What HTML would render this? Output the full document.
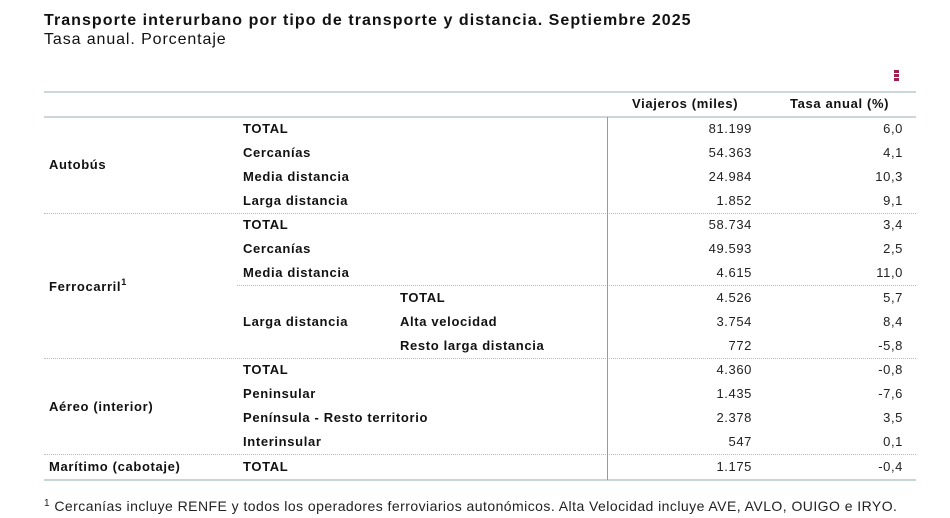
<!DOCTYPE html>
<html><head><meta charset="utf-8"><style>
body{margin:0;width:950px;height:518px;background:#fff;font-family:"Liberation Sans",Arial,sans-serif;color:#111;position:relative;overflow:hidden}
.a{position:absolute;white-space:nowrap;line-height:16px}
.b{font-weight:bold;font-size:13px;letter-spacing:0.65px}
.n{font-size:13px;text-align:right;color:#222;letter-spacing:0.6px}
.h{position:absolute;height:0}
</style></head><body>
<div class="a" style="left:44px;top:12px;font-size:16px;font-weight:bold;line-height:18px;letter-spacing:1.05px">Transporte interurbano por tipo de transporte y distancia. Septiembre 2025</div>
<div class="a" style="left:44px;top:31px;font-size:16px;line-height:18px;letter-spacing:0.9px">Tasa anual. Porcentaje</div>
<div class="a" style="left:894px;top:70px;width:5px;">
<div style="width:5px;height:3px;background:#a0204a;margin-bottom:1px"></div><div style="width:5px;height:3px;background:#a0204a;margin-bottom:1px"></div><div style="width:5px;height:3px;background:#a0204a"></div></div>
<div class="h" style="left:44px;width:872px;top:91px;border-top:2px solid #cdd6d8"></div>
<div class="h" style="left:44px;width:872px;top:116px;border-top:2px solid #cdd6d8"></div>
<div class="h" style="left:44px;width:872px;top:213px;border-top:1px dotted #bbb"></div>
<div class="h" style="left:237px;width:679px;top:285px;border-top:1px dotted #bbb"></div>
<div class="h" style="left:44px;width:872px;top:358px;border-top:1px dotted #bbb"></div>
<div class="h" style="left:44px;width:872px;top:454px;border-top:1px dotted #bbb"></div>
<div class="h" style="left:44px;width:872px;top:479px;border-top:2px solid #c5d6d8"></div>
<div style="position:absolute;left:607px;top:117px;width:1px;height:363px;background:#999"></div>
<div class="a b" style="left:632px;top:96px">Viajeros (miles)</div>
<div class="a b" style="left:790px;top:96px">Tasa anual (%)</div>

<div class="a b" style="left:49px;top:157px">Autobús</div>
<div class="a b" style="left:49px;top:279px">Ferrocarril<sup style="font-size:9px;vertical-align:6px;line-height:0">1</sup></div>
<div class="a b" style="left:49px;top:399px">Aéreo (interior)</div>
<div class="a b" style="left:49px;top:459px">Marítimo (cabotaje)</div>
<div class="a b" style="left:243px;top:314px">Larga distancia</div>

<div class="a b" style="left:243px;top:121px">TOTAL</div>
<div class="a b" style="left:243px;top:145px">Cercanías</div>
<div class="a b" style="left:243px;top:169px">Media distancia</div>
<div class="a b" style="left:243px;top:193px">Larga distancia</div>
<div class="a b" style="left:243px;top:217px">TOTAL</div>
<div class="a b" style="left:243px;top:241px">Cercanías</div>
<div class="a b" style="left:243px;top:265px">Media distancia</div>
<div class="a b" style="left:400px;top:290px">TOTAL</div>
<div class="a b" style="left:400px;top:314px">Alta velocidad</div>
<div class="a b" style="left:400px;top:338px">Resto larga distancia</div>
<div class="a b" style="left:243px;top:362px">TOTAL</div>
<div class="a b" style="left:243px;top:386px">Peninsular</div>
<div class="a b" style="left:243px;top:410px">Península - Resto territorio</div>
<div class="a b" style="left:243px;top:434px">Interinsular</div>
<div class="a b" style="left:243px;top:459px">TOTAL</div>

<div class="a n" style="left:652px;width:100px;top:121px">81.199</div><div class="a n" style="left:803px;width:100px;top:121px">6,0</div>
<div class="a n" style="left:652px;width:100px;top:145px">54.363</div><div class="a n" style="left:803px;width:100px;top:145px">4,1</div>
<div class="a n" style="left:652px;width:100px;top:169px">24.984</div><div class="a n" style="left:803px;width:100px;top:169px">10,3</div>
<div class="a n" style="left:652px;width:100px;top:193px">1.852</div><div class="a n" style="left:803px;width:100px;top:193px">9,1</div>
<div class="a n" style="left:652px;width:100px;top:217px">58.734</div><div class="a n" style="left:803px;width:100px;top:217px">3,4</div>
<div class="a n" style="left:652px;width:100px;top:241px">49.593</div><div class="a n" style="left:803px;width:100px;top:241px">2,5</div>
<div class="a n" style="left:652px;width:100px;top:265px">4.615</div><div class="a n" style="left:803px;width:100px;top:265px">11,0</div>
<div class="a n" style="left:652px;width:100px;top:290px">4.526</div><div class="a n" style="left:803px;width:100px;top:290px">5,7</div>
<div class="a n" style="left:652px;width:100px;top:314px">3.754</div><div class="a n" style="left:803px;width:100px;top:314px">8,4</div>
<div class="a n" style="left:652px;width:100px;top:338px">772</div><div class="a n" style="left:803px;width:100px;top:338px">-5,8</div>
<div class="a n" style="left:652px;width:100px;top:362px">4.360</div><div class="a n" style="left:803px;width:100px;top:362px">-0,8</div>
<div class="a n" style="left:652px;width:100px;top:386px">1.435</div><div class="a n" style="left:803px;width:100px;top:386px">-7,6</div>
<div class="a n" style="left:652px;width:100px;top:410px">2.378</div><div class="a n" style="left:803px;width:100px;top:410px">3,5</div>
<div class="a n" style="left:652px;width:100px;top:434px">547</div><div class="a n" style="left:803px;width:100px;top:434px">0,1</div>
<div class="a n" style="left:652px;width:100px;top:459px">1.175</div><div class="a n" style="left:803px;width:100px;top:459px">-0,4</div>

<div class="a" style="left:44px;top:498px;font-size:14px;color:#222;letter-spacing:0.45px"><sup style="font-size:10px;vertical-align:5px;line-height:0">1</sup> Cercanías incluye RENFE y todos los operadores ferroviarios autonómicos. Alta Velocidad incluye AVE, AVLO, OUIGO e IRYO.</div>
</body></html>
